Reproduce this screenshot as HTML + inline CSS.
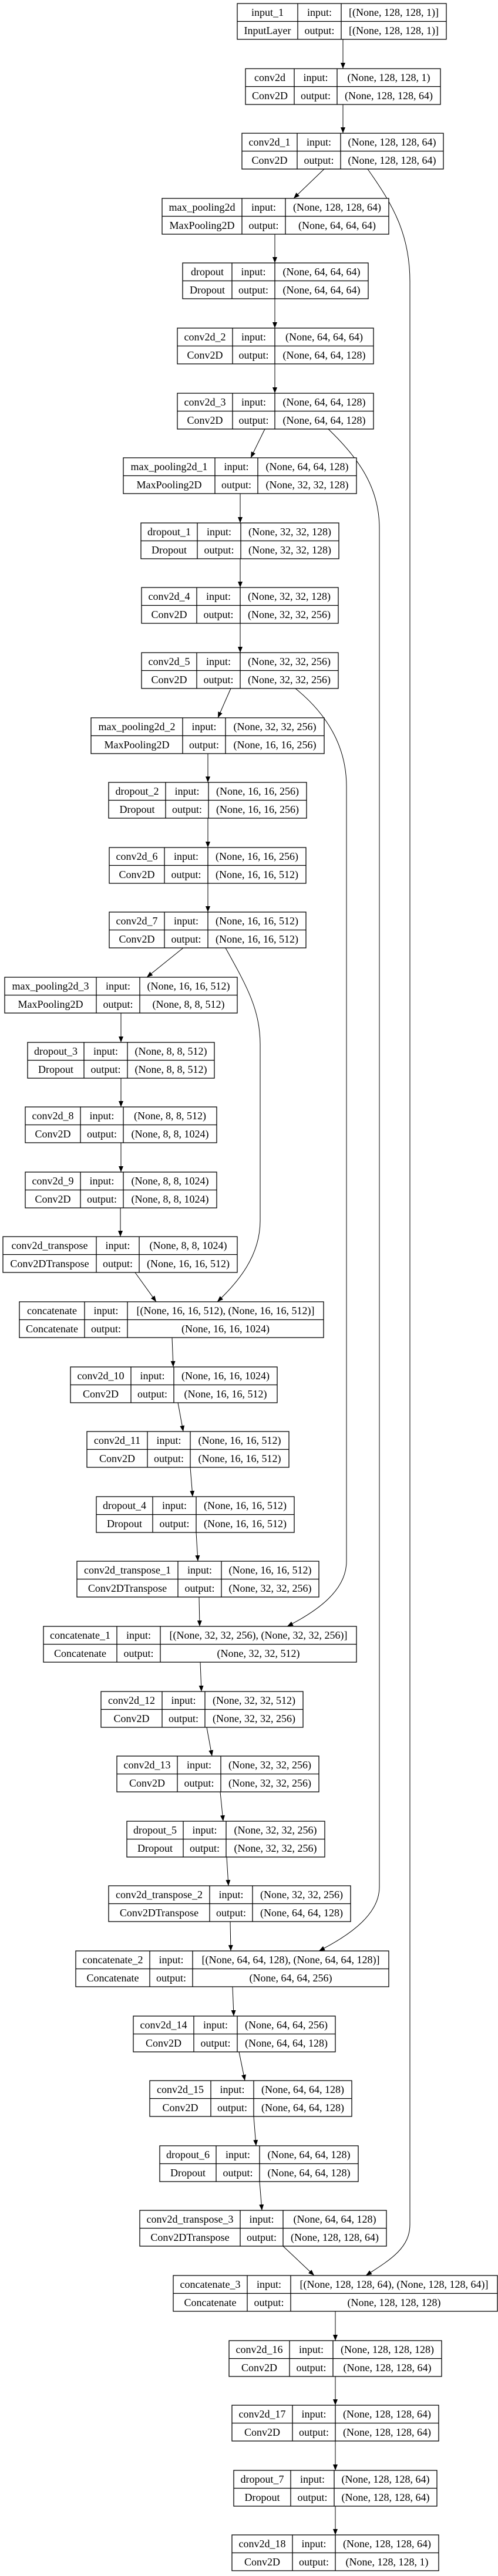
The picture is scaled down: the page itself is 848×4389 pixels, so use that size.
<!DOCTYPE html>
<html><head><meta charset="utf-8"><style>
html,body{margin:0;padding:0;background:#fff;}
svg{display:block;}
text{font-family:"Liberation Serif",serif;font-size:18px;text-anchor:middle;fill:#000;}
.b{fill:#fff;stroke:#000;stroke-width:1.3;}
.l{stroke:#000;stroke-width:1.3;}
.e{stroke:#000;stroke-width:1;fill:none;}
</style></head><body>
<svg width="848" height="4389" viewBox="0 0 848 4389" xmlns="http://www.w3.org/2000/svg">
<defs><marker id="a" markerUnits="userSpaceOnUse" markerWidth="10" markerHeight="8" refX="10" refY="4" orient="auto"><path d="M0,0 L10,4 L0,8 z" fill="#000"/></marker></defs>

<!-- edges -->
<g class="e" marker-end="url(#a)">
<path d="M584,67 L584,117" marker-end="url(#a)"/>
<path d="M584,178 L584,227" marker-end="url(#a)"/>
<path d="M552,288 L500,338" marker-end="url(#a)"/>
<path d="M468,399 L468,448" marker-end="url(#a)"/>
<path d="M468,509 L468,559" marker-end="url(#a)"/>
<path d="M468,620 L468,670" marker-end="url(#a)"/>
<path d="M451,731 L427,780" marker-end="url(#a)"/>
<path d="M409,841 L409,891" marker-end="url(#a)"/>
<path d="M409,952 L409,1001" marker-end="url(#a)"/>
<path d="M409,1062 L409,1112" marker-end="url(#a)"/>
<path d="M393,1173 L371,1223" marker-end="url(#a)"/>
<path d="M354,1284 L354,1333" marker-end="url(#a)"/>
<path d="M354,1394 L354,1444" marker-end="url(#a)"/>
<path d="M354,1505 L354,1554" marker-end="url(#a)"/>
<path d="M312,1615 L250,1665" marker-end="url(#a)"/>
<path d="M206,1726 L206,1776" marker-end="url(#a)"/>
<path d="M206,1837 L206,1886" marker-end="url(#a)"/>
<path d="M206,1947 L206,1997" marker-end="url(#a)"/>
<path d="M205,2058 L205,2107" marker-end="url(#a)"/>
<path d="M230,2168 L266,2218" marker-end="url(#a)"/>
<path d="M293,2279 L295,2329" marker-end="url(#a)"/>
<path d="M303,2390 L312,2439" marker-end="url(#a)"/>
<path d="M324,2500 L328,2550" marker-end="url(#a)"/>
<path d="M334,2611 L337,2660" marker-end="url(#a)"/>
<path d="M339,2721 L340,2771" marker-end="url(#a)"/>
<path d="M341,2832 L343,2882" marker-end="url(#a)"/>
<path d="M352,2943 L361,2992" marker-end="url(#a)"/>
<path d="M375,3053 L380,3103" marker-end="url(#a)"/>
<path d="M386,3164 L389,3213" marker-end="url(#a)"/>
<path d="M392,3274 L393,3324" marker-end="url(#a)"/>
<path d="M396,3385 L398,3435" marker-end="url(#a)"/>
<path d="M407,3496 L417,3545" marker-end="url(#a)"/>
<path d="M432,3606 L436,3656" marker-end="url(#a)"/>
<path d="M442,3717 L446,3766" marker-end="url(#a)"/>
<path d="M482,3827 L535,3877" marker-end="url(#a)"/>
<path d="M571,3938 L571,3988" marker-end="url(#a)"/>
<path d="M571,4049 L571,4098" marker-end="url(#a)"/>
<path d="M571,4159 L571,4209" marker-end="url(#a)"/>
<path d="M571,4270 L571,4319" marker-end="url(#a)"/>
<path d="M626,288 C670,350 698,400 698,480 L698,3790 C698,3830 665,3850 623,3877" marker-end="url(#a)"/>
<path d="M559,731 C610,780 646,830 646,900 L646,3215 C646,3260 600,3295 543,3324" marker-end="url(#a)"/>
<path d="M503,1173 C555,1215 590,1270 590,1340 L590,2660 C590,2710 540,2745 489,2771" marker-end="url(#a)"/>
<path d="M384,1615 C420,1680 443,1720 443,1780 L443,2080 C443,2140 405,2185 370,2218" marker-end="url(#a)"/>
</g>

<!-- nodes -->
<g transform="translate(0,6)"><rect class="b" x="404" y="0" width="356" height="61"/><line class="l" x1="404" y1="30.5" x2="760" y2="30.5"/><line class="l" x1="507" y1="0" x2="507" y2="61"/><line class="l" x1="581" y1="0" x2="581" y2="61"/>
<text x="455.5" y="21">input_1</text><text x="544" y="21">input:</text><text x="670.5" y="21">[(None, 128, 128, 1)]</text>
<text x="455.5" y="52">InputLayer</text><text x="544" y="52">output:</text><text x="670.5" y="52">[(None, 128, 128, 1)]</text></g>

<g transform="translate(0,117)"><rect class="b" x="418" y="0" width="332" height="61"/><line class="l" x1="418" y1="30.5" x2="750" y2="30.5"/><line class="l" x1="501" y1="0" x2="501" y2="61"/><line class="l" x1="574" y1="0" x2="574" y2="61"/>
<text x="459.5" y="21">conv2d</text><text x="537.5" y="21">input:</text><text x="662" y="21">(None, 128, 128, 1)</text>
<text x="459.5" y="52">Conv2D</text><text x="537.5" y="52">output:</text><text x="662" y="52">(None, 128, 128, 64)</text></g>

<g transform="translate(0,227)"><rect class="b" x="412" y="0" width="343" height="61"/><line class="l" x1="412" y1="30.5" x2="755" y2="30.5"/><line class="l" x1="506" y1="0" x2="506" y2="61"/><line class="l" x1="580" y1="0" x2="580" y2="61"/>
<text x="459" y="21">conv2d_1</text><text x="543" y="21">input:</text><text x="667.5" y="21">(None, 128, 128, 64)</text>
<text x="459" y="52">Conv2D</text><text x="543" y="52">output:</text><text x="667.5" y="52">(None, 128, 128, 64)</text></g>

<g transform="translate(0,338)"><rect class="b" x="276" y="0" width="386" height="61"/><line class="l" x1="276" y1="30.5" x2="662" y2="30.5"/><line class="l" x1="412" y1="0" x2="412" y2="61"/><line class="l" x1="486" y1="0" x2="486" y2="61"/>
<text x="344" y="21">max_pooling2d</text><text x="449" y="21">input:</text><text x="574" y="21">(None, 128, 128, 64)</text>
<text x="344" y="52">MaxPooling2D</text><text x="449" y="52">output:</text><text x="574" y="52">(None, 64, 64, 64)</text></g>

<g transform="translate(0,448)"><rect class="b" x="311" y="0" width="316" height="61"/><line class="l" x1="311" y1="30.5" x2="627" y2="30.5"/><line class="l" x1="395" y1="0" x2="395" y2="61"/><line class="l" x1="468" y1="0" x2="468" y2="61"/>
<text x="353" y="21">dropout</text><text x="431.5" y="21">input:</text><text x="547.5" y="21">(None, 64, 64, 64)</text>
<text x="353" y="52">Dropout</text><text x="431.5" y="52">output:</text><text x="547.5" y="52">(None, 64, 64, 64)</text></g>

<g transform="translate(0,559)"><rect class="b" x="302" y="0" width="334" height="61"/><line class="l" x1="302" y1="30.5" x2="636" y2="30.5"/><line class="l" x1="396" y1="0" x2="396" y2="61"/><line class="l" x1="468" y1="0" x2="468" y2="61"/>
<text x="349" y="21">conv2d_2</text><text x="432" y="21">input:</text><text x="552" y="21">(None, 64, 64, 64)</text>
<text x="349" y="52">Conv2D</text><text x="432" y="52">output:</text><text x="552" y="52">(None, 64, 64, 128)</text></g>

<g transform="translate(0,670)"><rect class="b" x="302" y="0" width="334" height="61"/><line class="l" x1="302" y1="30.5" x2="636" y2="30.5"/><line class="l" x1="396" y1="0" x2="396" y2="61"/><line class="l" x1="468" y1="0" x2="468" y2="61"/>
<text x="349" y="21">conv2d_3</text><text x="432" y="21">input:</text><text x="552" y="21">(None, 64, 64, 128)</text>
<text x="349" y="52">Conv2D</text><text x="432" y="52">output:</text><text x="552" y="52">(None, 64, 64, 128)</text></g>

<g transform="translate(0,780)"><rect class="b" x="210" y="0" width="397" height="61"/><line class="l" x1="210" y1="30.5" x2="607" y2="30.5"/><line class="l" x1="366" y1="0" x2="366" y2="61"/><line class="l" x1="439" y1="0" x2="439" y2="61"/>
<text x="288" y="21">max_pooling2d_1</text><text x="402.5" y="21">input:</text><text x="523" y="21">(None, 64, 64, 128)</text>
<text x="288" y="52">MaxPooling2D</text><text x="402.5" y="52">output:</text><text x="523" y="52">(None, 32, 32, 128)</text></g>

<g transform="translate(0,891)"><rect class="b" x="240" y="0" width="337" height="61"/><line class="l" x1="240" y1="30.5" x2="577" y2="30.5"/><line class="l" x1="336" y1="0" x2="336" y2="61"/><line class="l" x1="410" y1="0" x2="410" y2="61"/>
<text x="288" y="21">dropout_1</text><text x="373" y="21">input:</text><text x="493.5" y="21">(None, 32, 32, 128)</text>
<text x="288" y="52">Dropout</text><text x="373" y="52">output:</text><text x="493.5" y="52">(None, 32, 32, 128)</text></g>

<g transform="translate(0,1001)"><rect class="b" x="241" y="0" width="335" height="61"/><line class="l" x1="241" y1="30.5" x2="576" y2="30.5"/><line class="l" x1="335" y1="0" x2="335" y2="61"/><line class="l" x1="409" y1="0" x2="409" y2="61"/>
<text x="288" y="21">conv2d_4</text><text x="372" y="21">input:</text><text x="492.5" y="21">(None, 32, 32, 128)</text>
<text x="288" y="52">Conv2D</text><text x="372" y="52">output:</text><text x="492.5" y="52">(None, 32, 32, 256)</text></g>

<g transform="translate(0,1112)"><rect class="b" x="241" y="0" width="335" height="61"/><line class="l" x1="241" y1="30.5" x2="576" y2="30.5"/><line class="l" x1="335" y1="0" x2="335" y2="61"/><line class="l" x1="409" y1="0" x2="409" y2="61"/>
<text x="288" y="21">conv2d_5</text><text x="372" y="21">input:</text><text x="492.5" y="21">(None, 32, 32, 256)</text>
<text x="288" y="52">Conv2D</text><text x="372" y="52">output:</text><text x="492.5" y="52">(None, 32, 32, 256)</text></g>

<g transform="translate(0,1223)"><rect class="b" x="155" y="0" width="397" height="61"/><line class="l" x1="155" y1="30.5" x2="552" y2="30.5"/><line class="l" x1="311" y1="0" x2="311" y2="61"/><line class="l" x1="384" y1="0" x2="384" y2="61"/>
<text x="233" y="21">max_pooling2d_2</text><text x="347.5" y="21">input:</text><text x="468" y="21">(None, 32, 32, 256)</text>
<text x="233" y="52">MaxPooling2D</text><text x="347.5" y="52">output:</text><text x="468" y="52">(None, 16, 16, 256)</text></g>

<g transform="translate(0,1333)"><rect class="b" x="185" y="0" width="337" height="61"/><line class="l" x1="185" y1="30.5" x2="522" y2="30.5"/><line class="l" x1="282" y1="0" x2="282" y2="61"/><line class="l" x1="355" y1="0" x2="355" y2="61"/>
<text x="233.5" y="21">dropout_2</text><text x="318.5" y="21">input:</text><text x="438.5" y="21">(None, 16, 16, 256)</text>
<text x="233.5" y="52">Dropout</text><text x="318.5" y="52">output:</text><text x="438.5" y="52">(None, 16, 16, 256)</text></g>

<g transform="translate(0,1444)"><rect class="b" x="186" y="0" width="335" height="61"/><line class="l" x1="186" y1="30.5" x2="521" y2="30.5"/><line class="l" x1="280" y1="0" x2="280" y2="61"/><line class="l" x1="354" y1="0" x2="354" y2="61"/>
<text x="233" y="21">conv2d_6</text><text x="317" y="21">input:</text><text x="437.5" y="21">(None, 16, 16, 256)</text>
<text x="233" y="52">Conv2D</text><text x="317" y="52">output:</text><text x="437.5" y="52">(None, 16, 16, 512)</text></g>

<g transform="translate(0,1554)"><rect class="b" x="186" y="0" width="335" height="61"/><line class="l" x1="186" y1="30.5" x2="521" y2="30.5"/><line class="l" x1="280" y1="0" x2="280" y2="61"/><line class="l" x1="354" y1="0" x2="354" y2="61"/>
<text x="233" y="21">conv2d_7</text><text x="317" y="21">input:</text><text x="437.5" y="21">(None, 16, 16, 512)</text>
<text x="233" y="52">Conv2D</text><text x="317" y="52">output:</text><text x="437.5" y="52">(None, 16, 16, 512)</text></g>

<g transform="translate(0,1665)"><rect class="b" x="8" y="0" width="396" height="61"/><line class="l" x1="8" y1="30.5" x2="404" y2="30.5"/><line class="l" x1="164" y1="0" x2="164" y2="61"/><line class="l" x1="238" y1="0" x2="238" y2="61"/>
<text x="86" y="21">max_pooling2d_3</text><text x="201" y="21">input:</text><text x="321" y="21">(None, 16, 16, 512)</text>
<text x="86" y="52">MaxPooling2D</text><text x="201" y="52">output:</text><text x="321" y="52">(None, 8, 8, 512)</text></g>

<g transform="translate(0,1776)"><rect class="b" x="47" y="0" width="318" height="61"/><line class="l" x1="47" y1="30.5" x2="365" y2="30.5"/><line class="l" x1="143" y1="0" x2="143" y2="61"/><line class="l" x1="217" y1="0" x2="217" y2="61"/>
<text x="95" y="21">dropout_3</text><text x="180" y="21">input:</text><text x="291" y="21">(None, 8, 8, 512)</text>
<text x="95" y="52">Dropout</text><text x="180" y="52">output:</text><text x="291" y="52">(None, 8, 8, 512)</text></g>

<g transform="translate(0,1886)"><rect class="b" x="43" y="0" width="326" height="61"/><line class="l" x1="43" y1="30.5" x2="369" y2="30.5"/><line class="l" x1="137" y1="0" x2="137" y2="61"/><line class="l" x1="210" y1="0" x2="210" y2="61"/>
<text x="90" y="21">conv2d_8</text><text x="173.5" y="21">input:</text><text x="289.5" y="21">(None, 8, 8, 512)</text>
<text x="90" y="52">Conv2D</text><text x="173.5" y="52">output:</text><text x="289.5" y="52">(None, 8, 8, 1024)</text></g>

<g transform="translate(0,1997)"><rect class="b" x="43" y="0" width="326" height="61"/><line class="l" x1="43" y1="30.5" x2="369" y2="30.5"/><line class="l" x1="137" y1="0" x2="137" y2="61"/><line class="l" x1="210" y1="0" x2="210" y2="61"/>
<text x="90" y="21">conv2d_9</text><text x="173.5" y="21">input:</text><text x="289.5" y="21">(None, 8, 8, 1024)</text>
<text x="90" y="52">Conv2D</text><text x="173.5" y="52">output:</text><text x="289.5" y="52">(None, 8, 8, 1024)</text></g>

<g transform="translate(0,2107)"><rect class="b" x="5" y="0" width="399" height="61"/><line class="l" x1="5" y1="30.5" x2="404" y2="30.5"/><line class="l" x1="164" y1="0" x2="164" y2="61"/><line class="l" x1="237" y1="0" x2="237" y2="61"/>
<text x="84.5" y="21">conv2d_transpose</text><text x="200.5" y="21">input:</text><text x="320.5" y="21">(None, 8, 8, 1024)</text>
<text x="84.5" y="52">Conv2DTranspose</text><text x="200.5" y="52">output:</text><text x="320.5" y="52">(None, 16, 16, 512)</text></g>

<g transform="translate(0,2218)"><rect class="b" x="33" y="0" width="518" height="61"/><line class="l" x1="33" y1="30.5" x2="551" y2="30.5"/><line class="l" x1="144" y1="0" x2="144" y2="61"/><line class="l" x1="217" y1="0" x2="217" y2="61"/>
<text x="88.5" y="21">concatenate</text><text x="180.5" y="21">input:</text><text x="384" y="21">[(None, 16, 16, 512), (None, 16, 16, 512)]</text>
<text x="88.5" y="52">Concatenate</text><text x="180.5" y="52">output:</text><text x="384" y="52">(None, 16, 16, 1024)</text></g>

<g transform="translate(0,2329)"><rect class="b" x="120" y="0" width="352" height="61"/><line class="l" x1="120" y1="30.5" x2="472" y2="30.5"/><line class="l" x1="223" y1="0" x2="223" y2="61"/><line class="l" x1="296" y1="0" x2="296" y2="61"/>
<text x="171.5" y="21">conv2d_10</text><text x="259.5" y="21">input:</text><text x="384" y="21">(None, 16, 16, 1024)</text>
<text x="171.5" y="52">Conv2D</text><text x="259.5" y="52">output:</text><text x="384" y="52">(None, 16, 16, 512)</text></g>

<g transform="translate(0,2439)"><rect class="b" x="148" y="0" width="344" height="61"/><line class="l" x1="148" y1="30.5" x2="492" y2="30.5"/><line class="l" x1="251" y1="0" x2="251" y2="61"/><line class="l" x1="324" y1="0" x2="324" y2="61"/>
<text x="199.5" y="21">conv2d_11</text><text x="287.5" y="21">input:</text><text x="408" y="21">(None, 16, 16, 512)</text>
<text x="199.5" y="52">Conv2D</text><text x="287.5" y="52">output:</text><text x="408" y="52">(None, 16, 16, 512)</text></g>

<g transform="translate(0,2550)"><rect class="b" x="164" y="0" width="337" height="61"/><line class="l" x1="164" y1="30.5" x2="501" y2="30.5"/><line class="l" x1="260" y1="0" x2="260" y2="61"/><line class="l" x1="334" y1="0" x2="334" y2="61"/>
<text x="212" y="21">dropout_4</text><text x="297" y="21">input:</text><text x="417.5" y="21">(None, 16, 16, 512)</text>
<text x="212" y="52">Dropout</text><text x="297" y="52">output:</text><text x="417.5" y="52">(None, 16, 16, 512)</text></g>

<g transform="translate(0,2660)"><rect class="b" x="131" y="0" width="412" height="61"/><line class="l" x1="131" y1="30.5" x2="543" y2="30.5"/><line class="l" x1="303" y1="0" x2="303" y2="61"/><line class="l" x1="377" y1="0" x2="377" y2="61"/>
<text x="217" y="21">conv2d_transpose_1</text><text x="340" y="21">input:</text><text x="460" y="21">(None, 16, 16, 512)</text>
<text x="217" y="52">Conv2DTranspose</text><text x="340" y="52">output:</text><text x="460" y="52">(None, 32, 32, 256)</text></g>

<g transform="translate(0,2771)"><rect class="b" x="74" y="0" width="533" height="61"/><line class="l" x1="74" y1="30.5" x2="607" y2="30.5"/><line class="l" x1="199" y1="0" x2="199" y2="61"/><line class="l" x1="273" y1="0" x2="273" y2="61"/>
<text x="136.5" y="21">concatenate_1</text><text x="236" y="21">input:</text><text x="440" y="21">[(None, 32, 32, 256), (None, 32, 32, 256)]</text>
<text x="136.5" y="52">Concatenate</text><text x="236" y="52">output:</text><text x="440" y="52">(None, 32, 32, 512)</text></g>

<g transform="translate(0,2882)"><rect class="b" x="172" y="0" width="344" height="61"/><line class="l" x1="172" y1="30.5" x2="516" y2="30.5"/><line class="l" x1="276" y1="0" x2="276" y2="61"/><line class="l" x1="349" y1="0" x2="349" y2="61"/>
<text x="224" y="21">conv2d_12</text><text x="312.5" y="21">input:</text><text x="432.5" y="21">(None, 32, 32, 512)</text>
<text x="224" y="52">Conv2D</text><text x="312.5" y="52">output:</text><text x="432.5" y="52">(None, 32, 32, 256)</text></g>

<g transform="translate(0,2992)"><rect class="b" x="199" y="0" width="344" height="61"/><line class="l" x1="199" y1="30.5" x2="543" y2="30.5"/><line class="l" x1="302" y1="0" x2="302" y2="61"/><line class="l" x1="376" y1="0" x2="376" y2="61"/>
<text x="250.5" y="21">conv2d_13</text><text x="339" y="21">input:</text><text x="459.5" y="21">(None, 32, 32, 256)</text>
<text x="250.5" y="52">Conv2D</text><text x="339" y="52">output:</text><text x="459.5" y="52">(None, 32, 32, 256)</text></g>

<g transform="translate(0,3103)"><rect class="b" x="216" y="0" width="337" height="61"/><line class="l" x1="216" y1="30.5" x2="553" y2="30.5"/><line class="l" x1="312" y1="0" x2="312" y2="61"/><line class="l" x1="385" y1="0" x2="385" y2="61"/>
<text x="264" y="21">dropout_5</text><text x="348.5" y="21">input:</text><text x="469" y="21">(None, 32, 32, 256)</text>
<text x="264" y="52">Dropout</text><text x="348.5" y="52">output:</text><text x="469" y="52">(None, 32, 32, 256)</text></g>

<g transform="translate(0,3213)"><rect class="b" x="185" y="0" width="412" height="61"/><line class="l" x1="185" y1="30.5" x2="597" y2="30.5"/><line class="l" x1="357" y1="0" x2="357" y2="61"/><line class="l" x1="430" y1="0" x2="430" y2="61"/>
<text x="271" y="21">conv2d_transpose_2</text><text x="393.5" y="21">input:</text><text x="513.5" y="21">(None, 32, 32, 256)</text>
<text x="271" y="52">Conv2DTranspose</text><text x="393.5" y="52">output:</text><text x="513.5" y="52">(None, 64, 64, 128)</text></g>

<g transform="translate(0,3324)"><rect class="b" x="129" y="0" width="533" height="61"/><line class="l" x1="129" y1="30.5" x2="662" y2="30.5"/><line class="l" x1="255" y1="0" x2="255" y2="61"/><line class="l" x1="328" y1="0" x2="328" y2="61"/>
<text x="192" y="21">concatenate_2</text><text x="291.5" y="21">input:</text><text x="495" y="21">[(None, 64, 64, 128), (None, 64, 64, 128)]</text>
<text x="192" y="52">Concatenate</text><text x="291.5" y="52">output:</text><text x="495" y="52">(None, 64, 64, 256)</text></g>

<g transform="translate(0,3435)"><rect class="b" x="227" y="0" width="344" height="61"/><line class="l" x1="227" y1="30.5" x2="571" y2="30.5"/><line class="l" x1="330" y1="0" x2="330" y2="61"/><line class="l" x1="404" y1="0" x2="404" y2="61"/>
<text x="278.5" y="21">conv2d_14</text><text x="367" y="21">input:</text><text x="487.5" y="21">(None, 64, 64, 256)</text>
<text x="278.5" y="52">Conv2D</text><text x="367" y="52">output:</text><text x="487.5" y="52">(None, 64, 64, 128)</text></g>

<g transform="translate(0,3545)"><rect class="b" x="255" y="0" width="344" height="61"/><line class="l" x1="255" y1="30.5" x2="599" y2="30.5"/><line class="l" x1="359" y1="0" x2="359" y2="61"/><line class="l" x1="432" y1="0" x2="432" y2="61"/>
<text x="307" y="21">conv2d_15</text><text x="395.5" y="21">input:</text><text x="515.5" y="21">(None, 64, 64, 128)</text>
<text x="307" y="52">Conv2D</text><text x="395.5" y="52">output:</text><text x="515.5" y="52">(None, 64, 64, 128)</text></g>

<g transform="translate(0,3656)"><rect class="b" x="272" y="0" width="338" height="61"/><line class="l" x1="272" y1="30.5" x2="610" y2="30.5"/><line class="l" x1="368" y1="0" x2="368" y2="61"/><line class="l" x1="442" y1="0" x2="442" y2="61"/>
<text x="320" y="21">dropout_6</text><text x="405" y="21">input:</text><text x="526" y="21">(None, 64, 64, 128)</text>
<text x="320" y="52">Dropout</text><text x="405" y="52">output:</text><text x="526" y="52">(None, 64, 64, 128)</text></g>

<g transform="translate(0,3766)"><rect class="b" x="238" y="0" width="420" height="61"/><line class="l" x1="238" y1="30.5" x2="658" y2="30.5"/><line class="l" x1="409" y1="0" x2="409" y2="61"/><line class="l" x1="482" y1="0" x2="482" y2="61"/>
<text x="323.5" y="21">conv2d_transpose_3</text><text x="445.5" y="21">input:</text><text x="570" y="21">(None, 64, 64, 128)</text>
<text x="323.5" y="52">Conv2DTranspose</text><text x="445.5" y="52">output:</text><text x="570" y="52">(None, 128, 128, 64)</text></g>

<g transform="translate(0,3877)"><rect class="b" x="295" y="0" width="552" height="61"/><line class="l" x1="295" y1="30.5" x2="847" y2="30.5"/><line class="l" x1="421" y1="0" x2="421" y2="61"/><line class="l" x1="495" y1="0" x2="495" y2="61"/>
<text x="358" y="21">concatenate_3</text><text x="458" y="21">input:</text><text x="671" y="21">[(None, 128, 128, 64), (None, 128, 128, 64)]</text>
<text x="358" y="52">Concatenate</text><text x="458" y="52">output:</text><text x="671" y="52">(None, 128, 128, 128)</text></g>

<g transform="translate(0,3988)"><rect class="b" x="390" y="0" width="362" height="61"/><line class="l" x1="390" y1="30.5" x2="752" y2="30.5"/><line class="l" x1="493" y1="0" x2="493" y2="61"/><line class="l" x1="567" y1="0" x2="567" y2="61"/>
<text x="441.5" y="21">conv2d_16</text><text x="530" y="21">input:</text><text x="659.5" y="21">(None, 128, 128, 128)</text>
<text x="441.5" y="52">Conv2D</text><text x="530" y="52">output:</text><text x="659.5" y="52">(None, 128, 128, 64)</text></g>

<g transform="translate(0,4098)"><rect class="b" x="395" y="0" width="352" height="61"/><line class="l" x1="395" y1="30.5" x2="747" y2="30.5"/><line class="l" x1="498" y1="0" x2="498" y2="61"/><line class="l" x1="571" y1="0" x2="571" y2="61"/>
<text x="446.5" y="21">conv2d_17</text><text x="534.5" y="21">input:</text><text x="659" y="21">(None, 128, 128, 64)</text>
<text x="446.5" y="52">Conv2D</text><text x="534.5" y="52">output:</text><text x="659" y="52">(None, 128, 128, 64)</text></g>

<g transform="translate(0,4209)"><rect class="b" x="398" y="0" width="346" height="61"/><line class="l" x1="398" y1="30.5" x2="744" y2="30.5"/><line class="l" x1="495" y1="0" x2="495" y2="61"/><line class="l" x1="569" y1="0" x2="569" y2="61"/>
<text x="446.5" y="21">dropout_7</text><text x="532" y="21">input:</text><text x="656.5" y="21">(None, 128, 128, 64)</text>
<text x="446.5" y="52">Dropout</text><text x="532" y="52">output:</text><text x="656.5" y="52">(None, 128, 128, 64)</text></g>

<g transform="translate(0,4319)"><rect class="b" x="395" y="0" width="352" height="61"/><line class="l" x1="395" y1="30.5" x2="747" y2="30.5"/><line class="l" x1="498" y1="0" x2="498" y2="61"/><line class="l" x1="571" y1="0" x2="571" y2="61"/>
<text x="446.5" y="21">conv2d_18</text><text x="534.5" y="21">input:</text><text x="659" y="21">(None, 128, 128, 64)</text>
<text x="446.5" y="52">Conv2D</text><text x="534.5" y="52">output:</text><text x="659" y="52">(None, 128, 128, 1)</text></g>
</svg>
</body></html>
